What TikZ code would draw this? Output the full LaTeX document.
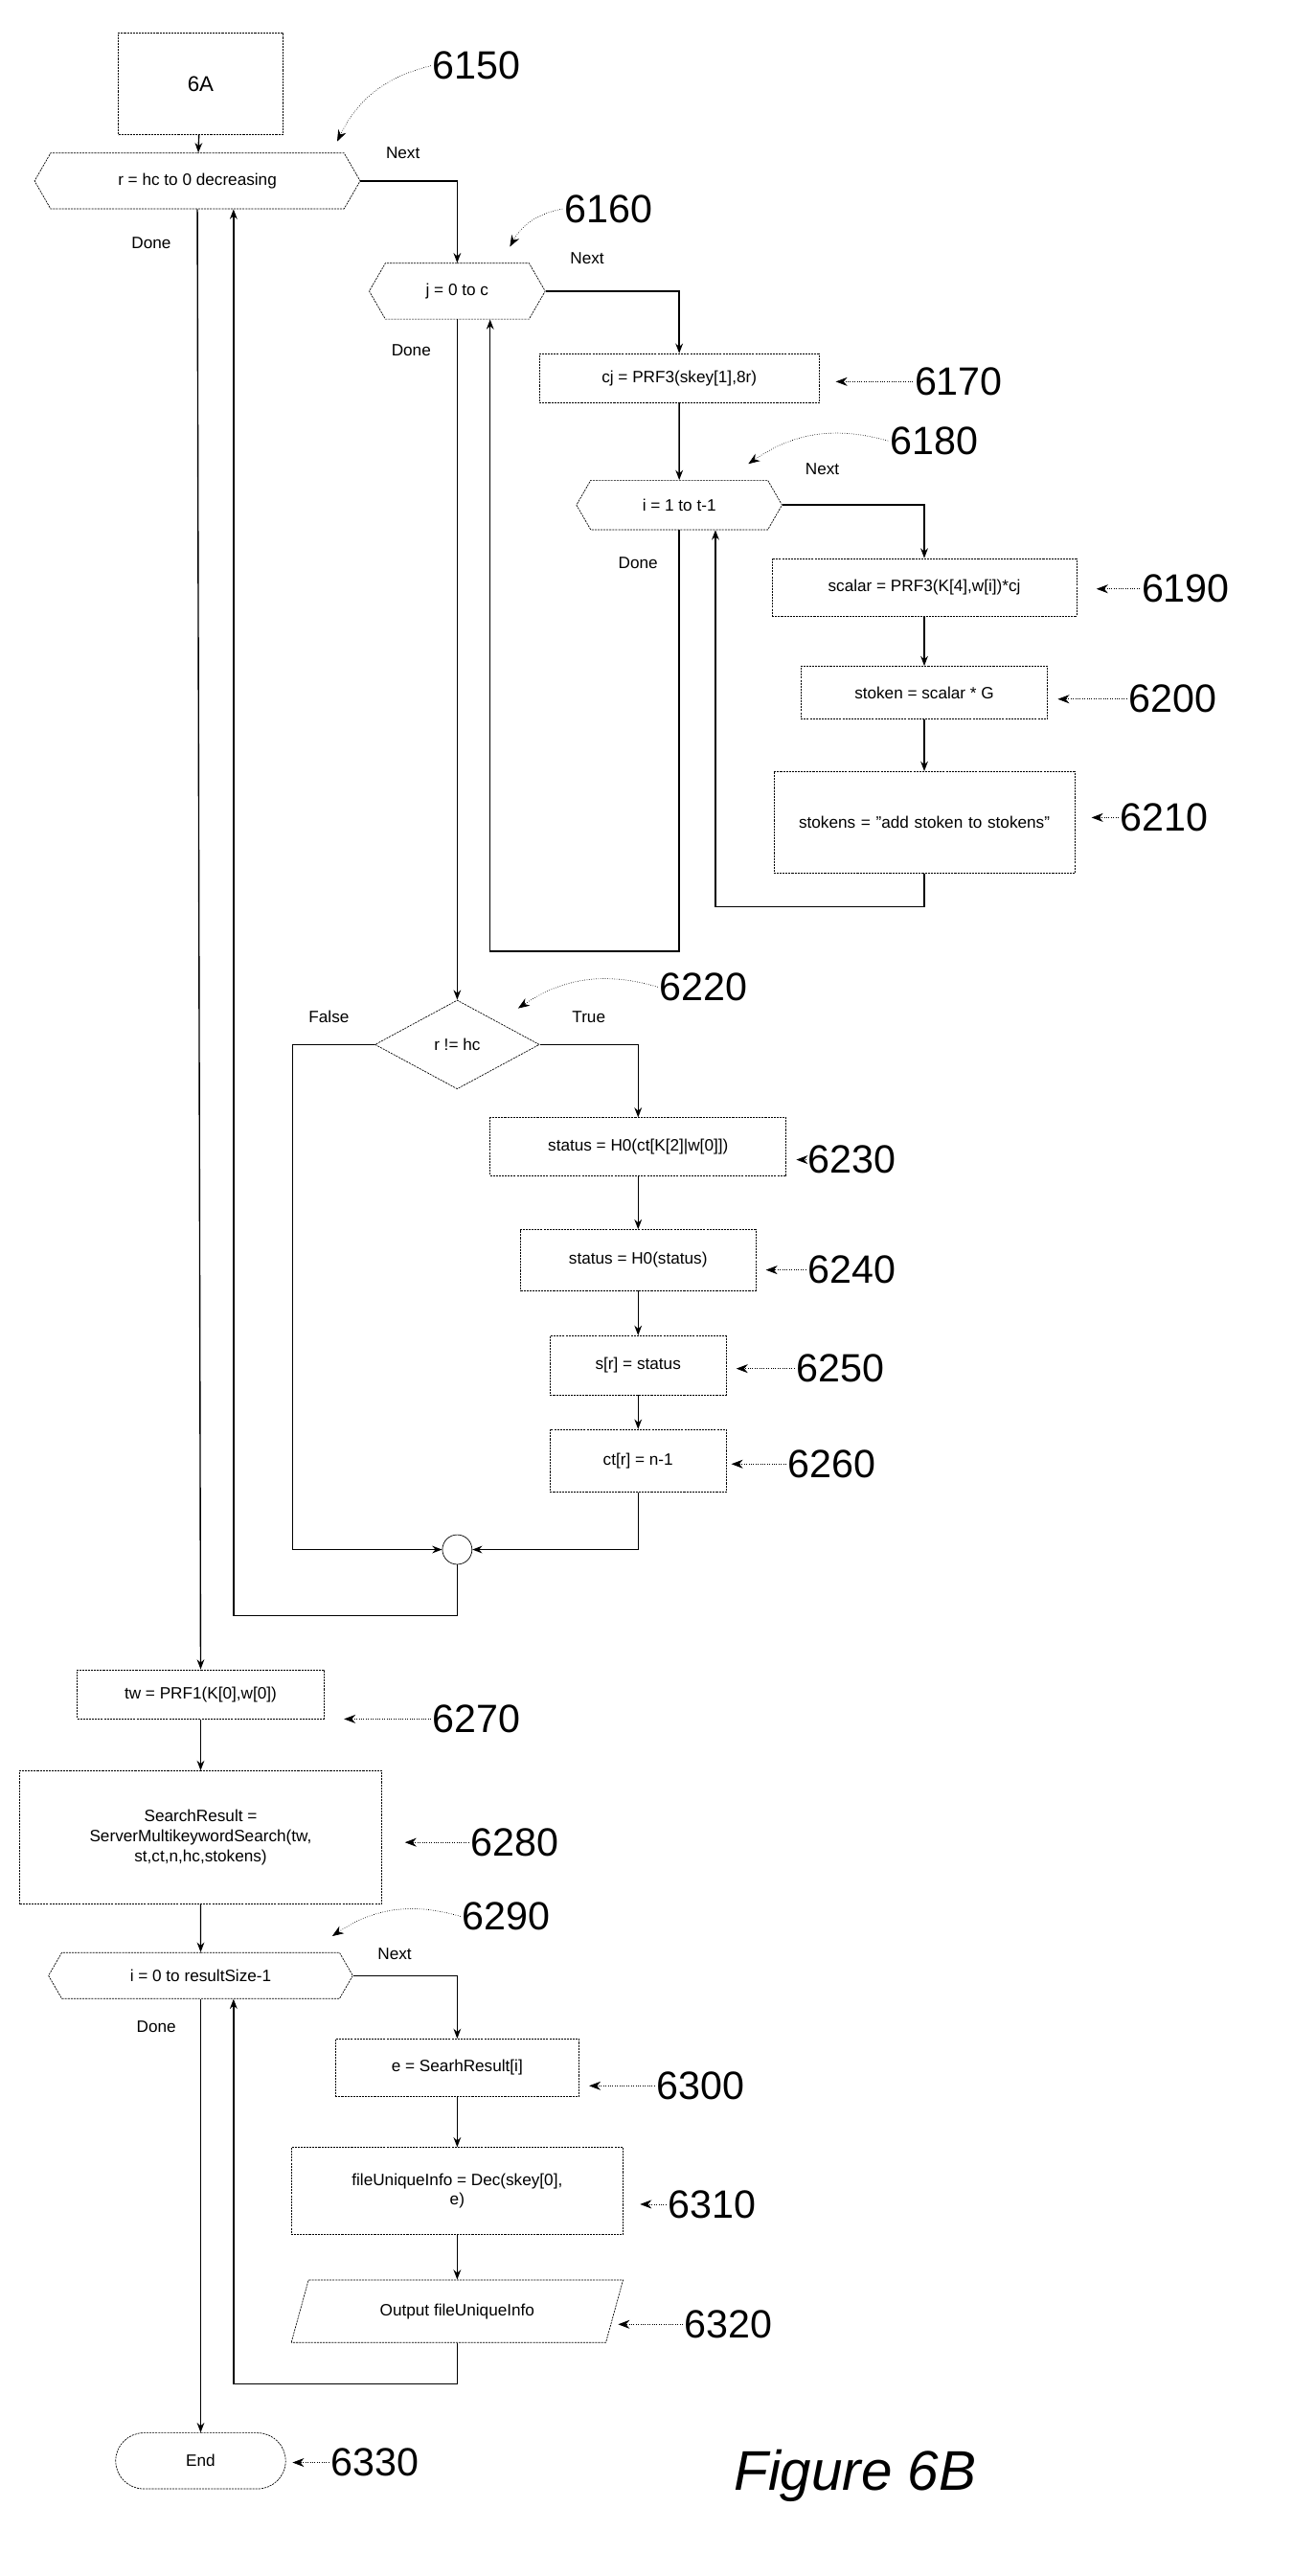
\documentclass[tikz,border=0pt]{standalone}
\usepackage{fontspec}
\setmainfont{Liberation Sans}
\usetikzlibrary{shapes.geometric, shapes.symbols, shapes.misc, arrows.meta}

\begin{document}
\begin{tikzpicture}[x=1pt, y=-1pt,
		box/.style = {draw, dashed, dash pattern=on 1.2pt off 0.6pt, minimum height=32pt, inner sep=4pt, font=\fontsize{10}{12}\selectfont, align=center},
		loop/.style = {draw, dashed, dash pattern=on 1.2pt off 0.6pt, signal, signal to=west and east, signal pointer angle=120, minimum height=34pt, font=\fontsize{10}{12}\selectfont},
		flow/.style = {thick, -{Stealth[length=6pt]}},
		num/.style = {font=\fontsize{24}{24}\selectfont, anchor=west, inner sep=1pt},
		lab/.style = {densely dotted, -{Stealth[length=7pt]}},
		tag/.style = {font=\fontsize{10}{12}\selectfont}]

	\useasboundingbox (0,0) rectangle (800,1566);

	% outer loop
	\node [box, minimum width=100pt, minimum height=62pt, font=\fontsize{13}{15}\selectfont] (s6a) at (122,51) {6A};
	\node [loop, minimum width=198pt] (h1) at (120,110) {r = hc to 0 decreasing};

	% middle loop
	\node [loop, minimum width=107pt] (h2) at (278,177) {j = 0 to c};
	\node [box, minimum width=170pt, minimum height=30pt] (b6170) at (413,230) {cj = PRF3(skey[1],8r)};

	% inner loop
	\node [loop, minimum width=125pt, minimum height=30pt] (h3) at (413,307) {i = 1 to t-1};
	\node [box, minimum width=185pt, minimum height=35pt] (b6190) at (562,357) {scalar = PRF3(K[4],w[i])*cj};
	\node [box, minimum width=150pt] (b6200) at (562,421) {stoken = scalar * G};
	\node [box, minimum width=183pt, minimum height=62pt, text width=160pt] (b6210) at (562,500) {stokens = "add stoken to stokens"};

	% check
	\node [draw, dashed, dash pattern=on 1.2pt off 0.6pt, diamond, aspect=1.85, minimum width=100pt, minimum height=54pt, inner sep=0pt, font=\fontsize{10}{12}\selectfont] (d6220) at (278,635) {r != hc};
	\node [box, minimum width=180pt, minimum height=35pt] (b6230) at (388,697) {status = H0(ct[K[2]|w[0]])};
	\node [box, minimum width=143pt, minimum height=37pt] (b6240) at (388,766) {status = H0(status)};
	\node [box, minimum width=107pt, minimum height=36pt] (b6250) at (388,830) {s[r] = status};
	\node [box, minimum width=107pt, minimum height=38pt] (b6260) at (388,888) {ct[r] = n-1};
	\node [draw, circle, minimum size=18pt, inner sep=0pt] (join) at (278,942) {};

	% search
	\node [box, minimum width=150pt, minimum height=30pt] (b6270) at (122,1030) {tw = PRF1(K[0],w[0])};
	\node [box, minimum width=220pt, minimum height=81pt] (b6280) at (122,1117) {SearchResult =\\ServerMultikeywordSearch(tw,\\st,ct,n,hc,stokens)};
	\node [loop, minimum width=185pt, minimum height=28pt] (h4) at (122,1201) {i = 0 to resultSize-1};
	\node [box, minimum width=148pt, minimum height=35pt] (b6300) at (278,1257) {e = SearhResult[i]};
	\node [box, minimum width=202pt, minimum height=53pt] (b6310) at (278,1332) {fileUniqueInfo = Dec(skey[0],\\e)};
	\node [draw, dashed, dash pattern=on 1.2pt off 0.6pt, trapezium, trapezium left angle=70, trapezium right angle=110, minimum width=202pt, minimum height=38pt, trapezium stretches=true, font=\fontsize{10}{12}\selectfont] (p6320) at (278,1405) {Output fileUniqueInfo};
	\node [draw, dashed, dash pattern=on 1.2pt off 0.6pt, rounded rectangle, minimum width=110pt, minimum height=34pt, font=\fontsize{10}{12}\selectfont] (end) at (122,1496) {End};

	% connectors
	\draw [flow] (s6a) -- (h1);
	\draw [flow] (h1.east) -| (h2.north);
	\draw [flow] (h2.east) -| (b6170.north);
	\draw [flow] (b6170) -- (h3);
	\draw [flow] (h3.east) -| (b6190.north);
	\draw [flow] (b6190) -- (b6200);
	\draw [flow] (b6200) -- (b6210);
	\draw [flow] (b6210.south) -- ++(0,20) -| ([xshift=22pt]h3.south);
	\draw [flow] (h3.south) -- ++(0,256) -| ([xshift=20pt]h2.south);
	\draw [flow] (h2.south) -- (d6220.north);
	\draw [flow] (d6220.east) -| (b6230.north);
	\draw [flow] (b6230) -- (b6240);
	\draw [flow] (b6240) -- (b6250);
	\draw [flow] (b6250) -- (b6260);
	\draw [flow] (b6260.south) |- (join.east);
	\draw [flow] (d6220.west) -| (178,942) -- (join.west);
	\draw [flow] (join.south) -- ++(0,31) -| ([xshift=22pt]h1.south);
	\draw [flow] (h1.south) -- (b6270.north);
	\draw [flow] (b6270) -- (b6280);
	\draw [flow] (b6280) -- (h4);
	\draw [flow] (h4.east) -| (b6300.north);
	\draw [flow] (b6300) -- (b6310);
	\draw [flow] (b6310) -- (p6320);
	\draw [flow] (p6320.south) -- ++(0,25) -| ([xshift=20pt]h4.south);
	\draw [flow] (h4.south) -- (end.north);

	% branch tags
	\node [tag] at (245,93) {Next};
	\node [tag] at (92,148) {Done};
	\node [tag] at (357,157) {Next};
	\node [tag] at (250,213) {Done};
	\node [tag] at (500,285) {Next};
	\node [tag] at (388,342) {Done};
	\node [tag] at (200,618) {False};
	\node [tag] at (358,618) {True};
	\node [tag] at (240,1188) {Next};
	\node [tag] at (95,1232) {Done};

	% reference numbers
	\node [num] (n6150) at (262,40) {6150};
	\node [num] (n6160) at (342,127) {6160};
	\node [num] (n6170) at (555,232) {6170};
	\node [num] (n6180) at (540,268) {6180};
	\node [num] (n6190) at (693,358) {6190};
	\node [num] (n6200) at (685,425) {6200};
	\node [num] (n6210) at (680,497) {6210};
	\node [num] (n6220) at (400,600) {6220};
	\node [num] (n6230) at (490,705) {6230};
	\node [num] (n6240) at (490,772) {6240};
	\node [num] (n6250) at (483,832) {6250};
	\node [num] (n6260) at (478,890) {6260};
	\node [num] (n6270) at (262,1045) {6270};
	\node [num] (n6280) at (285,1120) {6280};
	\node [num] (n6290) at (280,1165) {6290};
	\node [num] (n6300) at (398,1268) {6300};
	\node [num] (n6310) at (405,1340) {6310};
	\node [num] (n6320) at (415,1413) {6320};
	\node [num] (n6330) at (200,1497) {6330};
	\node [font=\fontsize{34}{34}\selectfont\itshape] (fig) at (520,1505) {Figure 6B};

	\coordinate (t6150) at (205,86);
	\coordinate (t6160) at (310,150);
	\coordinate (t6180) at (455,282);
	\coordinate (t6220) at (315,613);
	\coordinate (t6290) at (202,1177);
	\draw [lab] (n6150.west) to [bend right=25] (t6150);
	\draw [lab] (n6160.west) to [bend right=25] (t6160);
	\draw [lab] (n6180.west) to [bend right=25] (t6180);
	\draw [lab] (n6220.west) to [bend right=25] (t6220);
	\draw [lab] (n6290.west) to [bend right=25] (t6290);
	\draw [lab] (n6170.west) -- ([xshift=10pt]n6170.west -| b6170.east);
	\draw [lab] (n6190.west) -- ([xshift=12pt]n6190.west -| b6190.east);
	\draw [lab] (n6200.west) -- ([xshift=6pt]n6200.west -| b6200.east);
	\draw [lab] (n6210.west) -- ([xshift=10pt]n6210.west -| b6210.east);
	\draw [lab] (n6230.west) -- ([xshift=6pt]n6230.west -| b6230.east);
	\draw [lab] (n6240.west) -- ([xshift=6pt]n6240.west -| b6240.east);
	\draw [lab] (n6250.west) -- ([xshift=6pt]n6250.west -| b6250.east);
	\draw [lab] (n6260.west) -- ([xshift=3pt]n6260.west -| b6260.east);
	\draw [lab] (n6270.west) -- ([xshift=12pt]n6270.west -| b6270.east);
	\draw [lab] (n6280.west) -- ([xshift=14pt]n6280.west -| b6280.east);
	\draw [lab] (n6300.west) -- ([xshift=6pt]n6300.west -| b6300.east);
	\draw [lab] (n6310.west) -- ([xshift=10pt]n6310.west -| b6310.east);
	\draw [lab] (n6320.west) -- ([xshift=2pt]n6320.west -| p6320.east);
	\draw [lab] (n6330.west) -- ([xshift=4pt]n6330.west -| end.east);
\end{tikzpicture}
\end{document}
